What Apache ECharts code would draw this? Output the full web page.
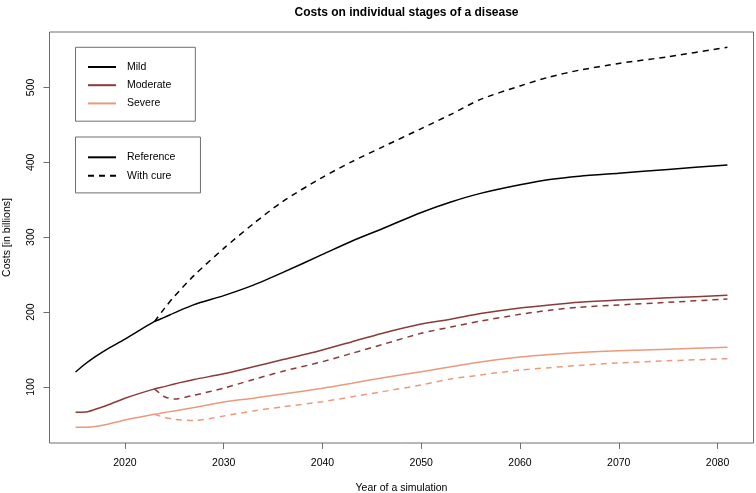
<!DOCTYPE html>
<html>
<head>
<meta charset="utf-8">
<script src="https://cdn.jsdelivr.net/npm/echarts@6/dist/echarts.min.js"></script>
<style>
html,body{margin:0;padding:0;background:#fff;}
#chart{width:756px;height:493px;}
</style>
</head>
<body>
<div id="chart"></div>
<script>
// ---- data ----
const years = [2015, 2016, 2017, 2018, 2020, 2023, 2024, 2025, 2027, 2030, 2033, 2036, 2040, 2043, 2046, 2050, 2053, 2056, 2060, 2063, 2066, 2070, 2075, 2081];

const mildReference     = [120, 131, 140.5, 149, 164, 187.5, 193, 199, 210, 222, 236, 253, 277, 295, 311, 333, 347, 358.5, 370, 377, 381.5, 385.5, 390.5, 396.5];
const mildWithCure      = [null, null, null, null, null, 187.5, 205, 221, 249, 285, 318, 348, 380, 401, 420, 445, 464, 484, 502, 514, 523, 532, 541, 553.5];

const moderateReference = [66.2, 66.5, 70.2, 74.6, 85, 97.5, 100.5, 104, 110, 117.7, 127, 136.6, 149.5, 160.5, 171.5, 184, 190.5, 198, 205.5, 209.5, 213, 216, 219, 222.4];
const moderateWithCure  = [null, null, null, null, null, 97.5, 87, 84, 89, 98.5, 110, 121, 133.8, 145, 156.5, 171.7, 180, 188, 197, 202.5, 206.5, 209.5, 213, 217.5];

const severeReference   = [46.2, 46.3, 47.2, 49.5, 55.9, 63.5, 66, 68, 72.5, 80, 85, 90.7, 98.3, 105, 112, 120.4, 127, 133.5, 140, 143.5, 146, 148.3, 150.5, 153];
const severeWithCure    = [null, null, null, null, null, 63.5, 59.5, 56.9, 55.2, 61.3, 68, 73.5, 80.4, 87, 93.6, 102.7, 110.7, 116, 122.7, 125.8, 128.8, 132.2, 135, 137.8];

const xTickValues = [2020, 2030, 2040, 2050, 2060, 2070, 2080];
const yTickValues = [100, 200, 300, 400, 500];

const stageNames = ['Mild', 'Moderate', 'Severe'];
const scenarioNames = ['Reference', 'With cure'];
const titleText = 'Costs on individual stages of a disease';
const xTitle = 'Year of a simulation';
const yTitle = 'Costs [in billions]';

// ---- styling ----
const FONT = '"Liberation Sans", Arial, Helvetica, sans-serif';
const colMild = '#000000';
const colModerate = '#8b3a3a';
const colSevere = '#ea9a7c';
const boxColor = '#6e6e6e';
const LW = 1.5;
const DASH = [6, 5];

function pairs(vals) {
  const out = [];
  for (let i = 0; i < years.length; i++) {
    if (vals[i] !== null) out.push([years[i], vals[i]]);
  }
  return out;
}

function lineSeries(name, vals, color, dashed) {
  return {
    name: name,
    type: 'line',
    data: pairs(vals),
    showSymbol: false,
    symbol: 'none',
    smooth: 0.25,
    silent: true,
    lineStyle: { color: color, width: LW, type: dashed ? DASH : 'solid' },
    itemStyle: { color: color },
    z: dashed ? 2 : 3
  };
}

const series = [
  lineSeries(stageNames[0], mildReference, colMild, false),
  lineSeries('Mild (with cure)', mildWithCure, colMild, true),
  lineSeries(stageNames[1], moderateReference, colModerate, false),
  lineSeries('Moderate (with cure)', moderateWithCure, colModerate, true),
  lineSeries(stageNames[2], severeReference, colSevere, false),
  lineSeries('Severe (with cure)', severeWithCure, colSevere, true),
  // legend-only entries for line type
  { name: scenarioNames[0], type: 'line', data: [], symbol: 'none', showSymbol: false,
    lineStyle: { color: '#000', width: LW, type: 'solid' }, itemStyle: { color: '#000' } },
  { name: scenarioNames[1], type: 'line', data: [], symbol: 'none', showSymbol: false,
    lineStyle: { color: '#000', width: LW, type: DASH }, itemStyle: { color: '#000' } }
];

const legendCommon = {
  orient: 'vertical',
  left: 75.5,
  itemWidth: 28,
  itemHeight: 14,
  selectedMode: false,
  borderColor: boxColor,
  borderWidth: 1,
  backgroundColor: '#fff',
  itemStyle: { opacity: 0, borderWidth: 0 },
  textStyle: { fontFamily: FONT, fontSize: 10.5, color: '#000', padding: [0, 0, 0, 6] }
};

const chart = echarts.init(document.getElementById('chart'), null, { renderer: 'canvas' });
chart.setOption({
  animation: false,
  backgroundColor: '#fff',
  title: {
    text: titleText,
    left: 401.5,
    textAlign: 'center',
    top: 2,
    textStyle: { fontFamily: FONT, fontSize: 12, fontWeight: 'bold', color: '#000' }
  },
  grid: {
    left: 49.5, top: 32, width: 704, height: 411,
    containLabel: false,
    outerBoundsMode: 'none',
    show: true, borderColor: boxColor, borderWidth: 1, backgroundColor: 'transparent'
  },
  legend: [
    Object.assign({}, legendCommon, {
      top: 47.3,
      itemGap: 7,
      padding: [14.1, 24, 12.2, 11.5],
      data: stageNames
    }),
    Object.assign({}, legendCommon, {
      top: 137,
      itemGap: 7.2,
      padding: [14.7, 25, 11.6, 11.5],
      data: scenarioNames
    })
  ],
  xAxis: {
    type: 'value',
    min: 2012.36,
    max: 2083.64,
    name: xTitle,
    nameLocation: 'middle',
    nameGap: 40,
    nameTextStyle: { fontFamily: FONT, fontSize: 10.5, color: '#000' },
    axisLine: { show: false },
    axisTick: { show: true, length: 6, lineStyle: { color: boxColor, width: 1 }, customValues: xTickValues },
    axisLabel: { fontFamily: FONT, fontSize: 10.5, color: '#000', margin: 15, customValues: xTickValues,
                 formatter: v => String(v) },
    splitLine: { show: false }
  },
  yAxis: {
    type: 'value',
    min: 25.2,
    max: 574,
    name: yTitle,
    nameLocation: 'middle',
    nameGap: 37,
    nameTextStyle: { fontFamily: FONT, fontSize: 10.5, color: '#000' },
    axisLine: { show: false },
    axisTick: { show: true, length: 6, lineStyle: { color: boxColor, width: 1 }, customValues: yTickValues },
    axisLabel: { fontFamily: FONT, fontSize: 10.5, color: '#000', margin: 12.5, rotate: 90, customValues: yTickValues,
                 formatter: v => String(v) },
    splitLine: { show: false }
  },
  series: series
});
</script>
</body>
</html>
